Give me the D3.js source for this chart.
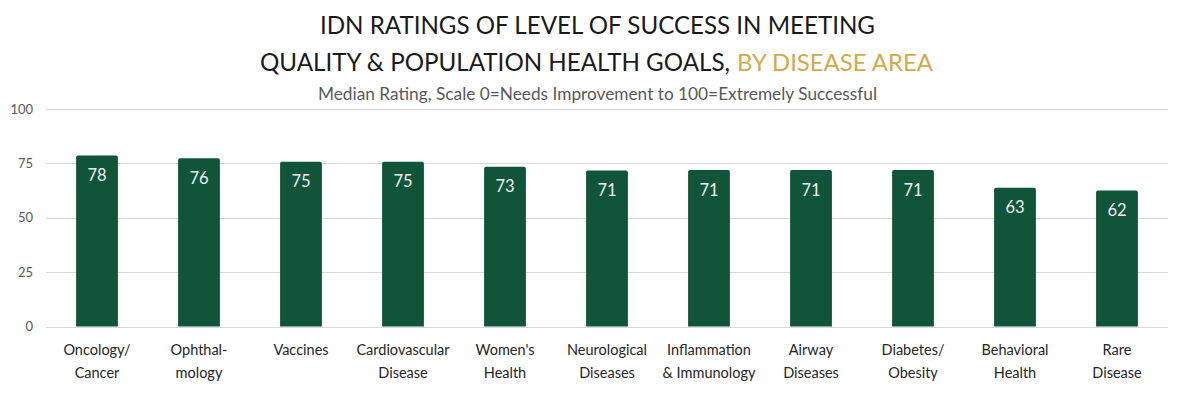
<!DOCTYPE html>
<html>
<head>
<meta charset="utf-8">
<script src="https://cdn.jsdelivr.net/npm/d3@7"></script>
<style>
  body { margin: 0; background: #fff; }
  text { font-family: "Source Sans Pro", Lato, "Noto Sans", sans-serif; }
</style>
</head>
<body>
<div id="chart"></div>
<script>
// data
var categories = [
  ["Oncology/", "Cancer"], ["Ophthal-", "mology"], ["Vaccines"], ["Cardiovascular", "Disease"],
  ["Women's", "Health"], ["Neurological", "Diseases"], ["Inflammation", "& Immunology"],
  ["Airway", "Diseases"], ["Diabetes/", "Obesity"], ["Behavioral", "Health"], ["Rare", "Disease"]
];
var ratings = [78.6, 77.3, 75.8, 75.8, 73.4, 71.7, 71.9, 71.9, 71.9, 63.8, 62.5];
var ratingLabels = ["78", "76", "75", "75", "73", "71", "71", "71", "71", "63", "62"];
var yTicks = [0, 25, 50, 75, 100];

var W = 1200, H = 396;
var margin = {top: 109, right: 32, bottom: 70, left: 46},
    width = W - margin.left - margin.right,
    height = 326.5 - margin.top;

var svg = d3.select("#chart").append("svg")
    .attr("width", W)
    .attr("height", H);

// titles
function fitText(sel, len) {
  var natural = sel.node().getComputedTextLength();
  if (natural > len) {
    sel.attr("font-size", +sel.attr("font-size") * len / natural);
  }
  sel.attr("textLength", len).attr("lengthAdjust", "spacingAndGlyphs");
}
var t1 = svg.append("text")
    .attr("x", 597.5).attr("y", 33.5)
    .attr("text-anchor", "middle")
    .attr("font-size", 27)
    .attr("fill", "#1a1a1a")
    .text("IDN RATINGS OF LEVEL OF SUCCESS IN MEETING");
fitText(t1, 555);

var t2a = svg.append("text")
    .attr("x", 260).attr("y", 71)
    .attr("font-size", 27)
    .attr("fill", "#1a1a1a")
    .text("QUALITY & POPULATION HEALTH GOALS,");
fitText(t2a, 470);

var t2b = svg.append("text")
    .attr("x", 737).attr("y", 71)
    .attr("font-size", 27)
    .attr("fill", "#d4a94a")
    .text("BY DISEASE AREA");
fitText(t2b, 196);

var st = svg.append("text")
    .attr("x", 597.5).attr("y", 100)
    .attr("text-anchor", "middle")
    .attr("font-size", 16.5)
    .attr("fill", "#595959")
    .text("Median Rating, Scale 0=Needs Improvement to 100=Extremely Successful");
fitText(st, 559);

var g = svg.append("g")
    .attr("transform", "translate(" + margin.left + "," + margin.top + ")");

var x = d3.scaleBand()
    .domain(d3.range(categories.length))
    .range([0, width])
    .paddingInner(0.59)
    .paddingOuter(0.295);
var y = d3.scaleLinear()
    .domain([0, 100])
    .range([height, 0]);

// gridlines
g.selectAll(".grid")
    .data(yTicks)
    .enter().append("line")
    .attr("x1", 0).attr("x2", width)
    .attr("y1", function(d) { return Math.round(y(d)) + 0.5; })
    .attr("y2", function(d) { return Math.round(y(d)) + 0.5; })
    .attr("stroke", "#d9d9d9")
    .attr("stroke-width", 1);

// y axis labels
g.selectAll(".ylab")
    .data(yTicks)
    .enter().append("text")
    .attr("x", -13)
    .attr("y", function(d) { return y(d); })
    .attr("dy", "0.35em")
    .attr("text-anchor", "end")
    .attr("font-size", 13)
    .attr("fill", "#595959")
    .text(function(d) { return d; });

// bars
g.selectAll(".bar")
    .data(ratings)
    .enter().append("path")
    .attr("fill", "#10553a")
    .attr("d", function(d, i) {
      var x0 = x(i), bw = x.bandwidth(), y0 = y(d), r = 2;
      return "M" + x0 + "," + y(0) + "V" + (y0 + r) +
             "Q" + x0 + "," + y0 + " " + (x0 + r) + "," + y0 +
             "H" + (x0 + bw - r) +
             "Q" + (x0 + bw) + "," + y0 + " " + (x0 + bw) + "," + (y0 + r) +
             "V" + y(0) + "Z";
    });

// value labels
g.selectAll(".val")
    .data(ratings)
    .enter().append("text")
    .attr("x", function(d, i) { return x(i) + x.bandwidth() / 2; })
    .attr("y", function(d) { return y(d) + 25.5; })
    .attr("text-anchor", "middle")
    .attr("font-size", 16.5)
    .attr("fill", "#f2f2f2")
    .text(function(d, i) { return ratingLabels[i]; });

// category labels
var cat = g.selectAll(".cat")
    .data(categories)
    .enter().append("text")
    .attr("x", function(d, i) { return x(i) + x.bandwidth() / 2; })
    .attr("y", height + 28.5)
    .attr("text-anchor", "middle")
    .attr("font-size", 14.5)
    .attr("fill", "#262626");
cat.each(function(lines) {
  var el = d3.select(this), cx = el.attr("x");
  lines.forEach(function(l, k) {
    el.append("tspan").attr("x", cx).attr("dy", k === 0 ? 0 : 23).text(l);
  });
});
</script>
</body>
</html>
